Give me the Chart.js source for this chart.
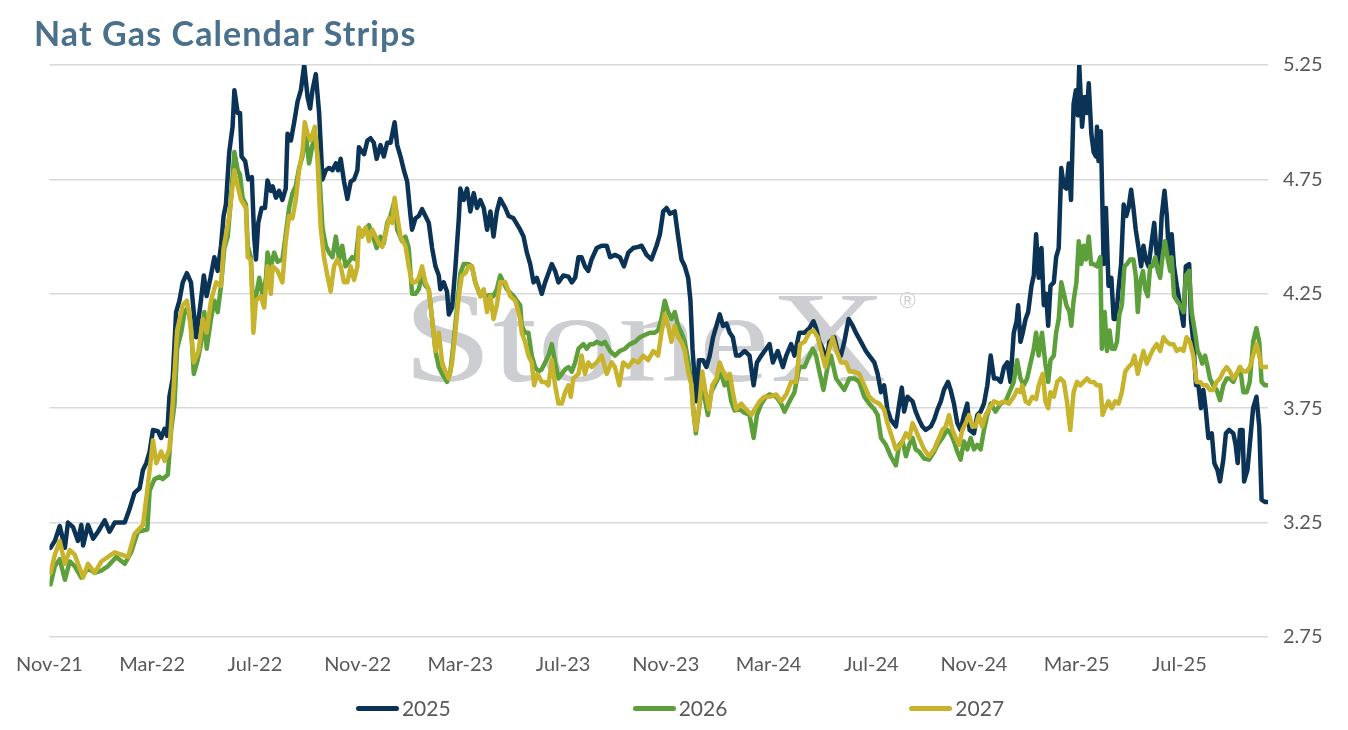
<!DOCTYPE html>
<html>
<head>
<meta charset="utf-8">
<title>Nat Gas Calendar Strips</title>
<script src="https://cdn.jsdelivr.net/npm/chart.js@4.4.1/dist/chart.umd.min.js"></script>
<style>
  html, body { margin: 0; padding: 0; background: #fff; }
  #wrap { position: relative; width: 1348px; height: 730px; overflow: hidden; }
  #title { position: absolute; left: 34px; top: 12px; font: 700 34px Lato, sans-serif; letter-spacing: 1.1px; color: #4a708c; white-space: nowrap; }
  #legend { position: absolute; left: 6px; top: 696px; width: 1348px; display: flex; justify-content: center; gap: 182px; font: 21px Lato, sans-serif; line-height: 24px; color: #595959; }
  #legend .item { display: flex; align-items: center; }
  #legend .swatch { width: 43px; height: 5px; border-radius: 3px; margin-right: 3px; }
</style>
</head>
<body>
<div id="wrap">
  <canvas id="chart" width="1348" height="730"></canvas>
  <div id="title">Nat Gas Calendar Strips</div>
  <div id="legend"></div>
</div>
<script>
// x = months after 1 Nov 2021, y = $/MMBtu
const xTickLabels = ['Nov-21', 'Mar-22', 'Jul-22', 'Nov-22', 'Mar-23', 'Jul-23',
    'Nov-23', 'Mar-24', 'Jul-24', 'Nov-24', 'Mar-25', 'Jul-25'];
const seriesNames = ['2025', '2026', '2027'];

const strip2025 = [
    [0.04,3.14],[0.21,3.17],[0.40,3.235],[0.60,3.14],[0.72,3.25],[0.92,3.23],[1.11,3.17],[1.24,3.24],[1.31,3.15],[1.50,3.24],
    [1.70,3.18],[1.89,3.21],[2.15,3.26],[2.34,3.21],[2.54,3.25],[2.93,3.25],[3.12,3.31],[3.31,3.38],[3.51,3.40],[3.64,3.48],
    [3.77,3.51],[3.90,3.56],[4.03,3.655],[4.22,3.65],[4.35,3.62],[4.48,3.66],[4.58,3.63],[4.67,3.80],[4.80,3.88],[4.93,4.17],
    [5.06,4.22],[5.19,4.30],[5.35,4.34],[5.51,4.30],[5.71,4.06],[5.88,4.205],[6.01,4.33],[6.12,4.24],[6.27,4.32],[6.42,4.41],
    [6.55,4.35],[6.68,4.46],[6.78,4.59],[6.87,4.64],[7.00,4.87],[7.13,4.98],[7.20,5.14],[7.33,5.04],[7.42,5.04],[7.48,4.85],
    [7.62,4.83],[7.74,4.75],[7.88,4.76],[7.97,4.50],[8.04,4.40],[8.13,4.56],[8.26,4.625],[8.39,4.625],[8.49,4.745],[8.62,4.70],
    [8.69,4.72],[8.82,4.67],[8.94,4.70],[9.07,4.66],[9.20,4.71],[9.27,4.95],[9.40,4.92],[9.53,5.00],[9.66,5.09],[9.79,5.14],
    [9.92,5.25],[10.05,5.11],[10.15,5.06],[10.24,5.14],[10.37,5.21],[10.50,5.04],[10.63,4.75],[10.76,4.79],[10.89,4.80],[11.02,4.79],
    [11.15,4.82],[11.24,4.79],[11.34,4.84],[11.47,4.74],[11.60,4.665],[11.73,4.74],[11.86,4.75],[11.99,4.79],[12.05,4.89],[12.25,4.86],
    [12.38,4.92],[12.50,4.93],[12.63,4.91],[12.74,4.84],[12.89,4.90],[13.02,4.85],[13.15,4.91],[13.28,4.91],[13.44,5.00],[13.54,4.90],
    [13.67,4.85],[13.80,4.79],[13.93,4.74],[14.06,4.59],[14.12,4.53],[14.25,4.58],[14.38,4.59],[14.51,4.62],[14.64,4.59],[14.77,4.56],
    [14.90,4.45],[15.03,4.37],[15.16,4.33],[15.22,4.27],[15.35,4.30],[15.48,4.26],[15.55,4.16],[15.68,4.19],[15.81,4.37],[15.94,4.58],
    [16.00,4.71],[16.13,4.66],[16.26,4.71],[16.39,4.61],[16.52,4.69],[16.65,4.625],[16.78,4.66],[16.91,4.625],[17.04,4.53],[17.17,4.61],
    [17.29,4.50],[17.42,4.61],[17.55,4.665],[17.75,4.625],[17.88,4.59],[18.07,4.58],[18.33,4.53],
    [18.46,4.50],[18.59,4.43],[18.72,4.38],[18.85,4.30],[18.98,4.32],[19.17,4.25],[19.30,4.30],[19.43,4.34],[19.56,4.38],[19.69,4.35],
    [19.82,4.30],[20.01,4.33],[20.21,4.325],[20.34,4.30],[20.47,4.32],[20.60,4.41],[20.72,4.41],[20.85,4.37],[20.98,4.35],[21.11,4.40],
    [21.31,4.45],[21.50,4.46],[21.70,4.46],[21.83,4.41],[22.02,4.42],[22.21,4.41],[22.37,4.37],[22.54,4.43],[22.73,4.45],[22.93,4.455],
    [23.06,4.46],[23.25,4.42],[23.44,4.40],[23.64,4.46],[23.77,4.51],[23.90,4.61],[24.03,4.625],[24.16,4.60],[24.35,4.61],[24.48,4.50],
    [24.61,4.40],[24.74,4.37],[24.87,4.32],[24.96,4.22],[25.04,4.01],[25.13,3.865],[25.19,3.78],[25.29,3.96],[25.45,3.96],[25.58,3.93],
    [25.71,3.98],[25.84,4.06],[25.97,4.11],[26.10,4.16],[26.23,4.11],[26.36,4.12],[26.49,4.08],[26.61,4.06],[26.74,3.98],[26.87,3.98],
    [27.07,4.00],[27.26,3.98],[27.42,3.85],[27.55,3.95],[27.72,3.98],[27.91,4.01],[28.04,4.03],
    [28.17,3.95],[28.36,4.00],[28.56,3.93],[28.69,3.98],[28.88,4.03],[29.01,3.98],[29.20,4.08],[29.40,4.08],[29.59,4.10],[29.75,4.13],
    [29.85,4.10],[29.98,4.04],[30.11,4.01],[30.24,3.95],[30.37,4.04],[30.56,4.06],[30.69,4.00],[30.82,3.98],[30.95,4.04],[31.12,4.14],
    [31.28,4.11],[31.40,4.08],[31.60,4.04],[31.79,4.00],[31.92,3.98],[32.12,3.95],[32.25,3.90],[32.38,3.82],[32.50,3.85],[32.63,3.745],
    [32.76,3.70],[32.96,3.67],[33.09,3.77],[33.19,3.84],[33.28,3.735],[33.41,3.80],[33.61,3.78],[33.73,3.735],[33.86,3.70],[33.99,3.67],
    [34.12,3.655],[34.32,3.67],[34.45,3.70],[34.58,3.745],[34.71,3.78],[34.83,3.83],[34.99,3.865],[35.09,3.83],[35.22,3.77],[35.35,3.685],
    [35.48,3.655],[35.61,3.72],[35.74,3.77],[35.83,3.655],[36.00,3.64],[36.13,3.72],[36.26,3.735],[36.39,3.77],[36.52,3.85],[36.65,3.98],
    [36.78,3.88],[36.91,3.88],[37.04,3.865],[37.17,3.93],[37.30,3.95],[37.42,3.865],[37.55,4.08],[37.66,4.13],[37.72,4.20],[37.81,4.04],
    [37.90,4.08],[38.01,4.14],[38.11,4.17],[38.24,4.285],[38.33,4.33],[38.42,4.51],[38.52,4.32],[38.63,4.45],[38.72,4.20],[38.81,4.25],
    [38.89,4.11],[38.98,4.285],[39.11,4.30],[39.20,4.41],[39.30,4.45],[39.40,4.80],[39.50,4.72],[39.60,4.71],[39.69,4.82],[39.78,4.66],
    [39.88,5.08],[39.97,5.14],[40.04,5.03],[40.10,5.25],[40.21,4.98],[40.31,5.11],[40.40,5.04],[40.47,5.17],[40.57,4.95],[40.66,4.87],
    [40.75,4.85],[40.79,4.98],[40.85,4.83],[40.94,4.96],[41.05,4.38],[41.14,4.625],[41.24,4.285],[41.35,4.32],[41.44,4.14],[41.53,4.14],
    [41.63,4.27],[41.73,4.38],[41.83,4.64],[41.93,4.59],[42.02,4.625],[42.12,4.705],[42.21,4.625],[42.30,4.53],[42.41,4.45],[42.51,4.37],
    [42.60,4.46],[42.69,4.40],[42.80,4.37],[42.90,4.46],[43.02,4.56],[43.11,4.43],[43.21,4.37],[43.31,4.59],[43.42,4.70],[43.51,4.59],
    [43.60,4.40],[43.70,4.51],[43.79,4.37],[43.90,4.285],[44.03,4.20],[44.16,4.11],[44.25,4.37],[44.38,4.38],[44.45,4.14],[44.54,4.04],
    [44.65,3.85],[44.74,3.85],[44.84,3.75],[44.93,3.83],[45.02,3.75],[45.13,3.62],[45.26,3.64],[45.36,3.51],[45.48,3.48],[45.58,3.43],
    [45.71,3.525],[45.81,3.64],[45.94,3.655],[46.10,3.64],[46.19,3.59],[46.27,3.51],[46.36,3.655],[46.46,3.655],[46.52,3.43],[46.65,3.48],
    [46.74,3.59],[46.87,3.75],[47.00,3.80],[47.11,3.67],[47.20,3.35],[47.33,3.34],[47.43,3.34]
];

const strip2026 = [
    [0.04,2.98],[0.21,3.06],[0.40,3.09],[0.60,3.00],[0.79,3.08],[0.98,3.06],[1.24,3.01],[1.50,3.05],[1.76,3.03],[2.02,3.04],
    [2.28,3.06],[2.60,3.10],[2.93,3.07],[3.18,3.12],[3.44,3.21],[3.81,3.22],[3.90,3.39],[4.09,3.44],[4.28,3.45],[4.41,3.44],
    [4.61,3.46],[4.74,3.655],[4.87,3.77],[4.97,4.01],[5.13,4.08],[5.26,4.17],[5.39,4.19],[5.51,4.11],[5.62,3.90],[5.77,3.96],
    [5.90,4.03],[6.03,4.17],[6.12,4.01],[6.29,4.14],[6.42,4.22],[6.55,4.17],[6.68,4.285],[6.81,4.45],[6.94,4.50],[7.07,4.67],
    [7.20,4.87],[7.33,4.79],[7.42,4.77],[7.52,4.67],[7.65,4.64],[7.72,4.46],[7.84,4.41],[7.94,4.16],[8.04,4.24],[8.17,4.32],
    [8.30,4.24],[8.43,4.32],[8.49,4.43],[8.62,4.37],
    [8.75,4.43],[8.88,4.39],[9.07,4.40],[9.20,4.51],[9.33,4.625],[9.46,4.69],[9.59,4.72],[9.72,4.80],[9.85,4.85],[9.98,4.95],
    [10.11,4.82],[10.24,4.90],[10.37,4.93],[10.50,4.79],[10.63,4.54],[10.76,4.46],[10.89,4.43],[11.02,4.41],[11.15,4.50],[11.28,4.40],
    [11.40,4.46],[11.53,4.37],[11.66,4.39],[11.79,4.41],[11.92,4.40],[12.05,4.53],[12.25,4.52],[12.44,4.55],[12.57,4.51],[12.74,4.45],
    [12.89,4.50],[13.02,4.47],[13.15,4.56],[13.28,4.59],[13.44,4.66],[13.54,4.53],[13.73,4.48],[13.86,4.50],[13.99,4.45],[14.12,4.25],
    [14.25,4.25],[14.38,4.27],[14.51,4.33],[14.64,4.285],[14.77,4.27],[14.90,4.14],[15.03,4.00],[15.16,3.93],[15.29,3.90],[15.48,3.865],
    [15.61,3.91],[15.74,4.04],[15.87,4.19],[16.00,4.34],[16.13,4.38],[16.32,4.38],[16.45,4.37],[16.58,4.30],[16.78,4.24],[16.91,4.25],
    [17.04,4.24],[17.17,4.245],[17.29,4.24],[17.42,4.27],[17.55,4.33],[17.68,4.30],[17.81,4.27],[18.07,4.24],[18.33,4.20],
    [18.39,4.11],[18.52,4.08],[18.65,4.08],[18.78,3.98],[18.91,3.93],[19.04,3.91],[19.17,3.92],[19.30,3.95],[19.43,3.98],[19.56,4.03],
    [19.69,3.95],[19.82,3.88],[19.95,3.90],[20.08,3.92],[20.21,3.93],[20.34,3.91],[20.47,3.95],[20.60,4.01],[20.79,4.03],[20.92,4.01],
    [21.05,4.03],[21.18,4.03],[21.31,4.04],[21.50,4.03],[21.63,4.04],[21.83,4.00],[22.02,3.98],[22.21,4.00],[22.41,4.01],[22.60,4.03],
    [22.80,4.04],[22.99,4.06],[23.18,4.07],[23.38,4.08],[23.57,4.08],[23.70,4.09],[23.83,4.14],[23.96,4.22],[24.09,4.17],[24.22,4.14],
    [24.35,4.17],[24.48,4.11],[24.61,4.08],[24.74,4.04],[24.87,3.96],[25.00,3.85],[25.09,3.72],[25.17,3.64],[25.29,3.74],[25.42,3.865],
    [25.55,3.77],[25.64,3.72],[25.77,3.82],[25.90,3.85],[26.03,3.88],[26.16,3.90],[26.29,3.85],[26.42,3.865],[26.55,3.78],[26.68,3.74],
    [26.87,3.745],[27.07,3.73],[27.26,3.72],[27.42,3.62],[27.55,3.72],[27.72,3.77],[27.91,3.80],[28.04,3.81],
    [28.30,3.80],[28.49,3.77],[28.62,3.735],[28.82,3.78],[29.01,3.82],[29.20,3.93],[29.40,3.93],[29.59,3.98],[29.72,4.01],[29.85,3.98],
    [29.98,3.91],[30.14,3.83],[30.30,3.93],[30.43,3.98],[30.63,3.88],[30.82,3.85],[30.95,3.83],[31.15,3.88],[31.34,3.88],[31.53,3.865],
    [31.73,3.80],[31.92,3.77],[32.12,3.745],[32.25,3.72],[32.38,3.62],[32.57,3.59],[32.76,3.54],[32.96,3.50],[33.09,3.59],[33.22,3.605],
    [33.35,3.54],[33.48,3.59],[33.61,3.62],[33.73,3.57],[33.86,3.56],[34.06,3.53],[34.25,3.525],[34.45,3.56],[34.58,3.59],[34.77,3.62],
    [34.96,3.655],[35.09,3.64],[35.22,3.605],[35.35,3.56],[35.48,3.525],[35.61,3.605],[35.74,3.57],[35.87,3.62],[36.00,3.57],[36.13,3.59],
    [36.26,3.57],[36.39,3.655],[36.52,3.72],[36.65,3.77],[36.84,3.735],[37.04,3.77],[37.23,3.78],[37.42,3.83],[37.55,3.865],[37.68,3.96],
    [37.81,3.88],
    [37.94,3.85],[38.07,3.88],[38.20,3.945],[38.33,4.01],[38.42,4.08],[38.52,3.98],[38.65,4.08],[38.78,3.945],[38.89,3.865],[38.98,3.96],
    [39.11,3.98],[39.20,4.08],[39.30,4.14],[39.40,4.30],[39.50,4.25],[39.60,4.20],[39.72,4.17],[39.79,4.11],[39.88,4.22],[39.99,4.30],
    [40.08,4.48],[40.18,4.38],[40.27,4.46],[40.36,4.40],[40.47,4.50],[40.56,4.38],[40.66,4.38],[40.79,4.37],[40.92,4.41],[40.98,4.01],
    [41.09,4.17],[41.18,4.00],[41.28,4.09],[41.37,4.01],[41.48,4.01],[41.57,4.04],[41.66,4.16],[41.76,4.20],[41.86,4.37],[41.96,4.38],
    [42.08,4.40],[42.21,4.40],[42.30,4.33],[42.38,4.17],[42.47,4.30],[42.58,4.35],[42.67,4.27],[42.77,4.24],[42.86,4.37],[42.95,4.37],
    [43.06,4.41],[43.16,4.35],[43.25,4.32],[43.34,4.41],[43.44,4.48],[43.55,4.40],[43.64,4.35],[43.70,4.41],[43.79,4.24],[43.90,4.22],
    [44.03,4.20],[44.16,4.17],[44.25,4.33],[44.38,4.35],[44.48,4.17],[44.61,4.08],[44.71,4.00],[44.80,3.98],[44.89,3.945],[45.00,3.98],
    [45.10,3.93],[45.19,3.88],[45.32,3.85],[45.45,3.83],[45.58,3.785],[45.71,3.85],[45.84,3.88],[45.97,3.88],[46.10,3.865],[46.23,3.90],
    [46.36,3.93],[46.49,3.82],[46.62,3.82],[46.74,3.865],[46.87,4.04],[47.00,4.10],[47.11,4.04],[47.20,3.865],[47.33,3.85],[47.43,3.85]
];

const strip2027 = [
    [0.04,3.03],[0.21,3.11],[0.40,3.17],[0.60,3.07],[0.79,3.13],[0.98,3.11],[1.31,3.01],[1.50,3.07],[1.76,3.03],[2.02,3.08],
    [2.28,3.10],[2.54,3.12],[2.80,3.11],[3.06,3.10],[3.31,3.20],[3.64,3.24],[3.83,3.41],[4.03,3.61],[4.16,3.51],[4.35,3.56],
    [4.48,3.52],[4.67,3.57],[4.80,3.78],[4.97,4.09],[5.19,4.20],[5.35,4.22],[5.45,4.16],[5.62,3.95],[5.80,4.00],[5.97,4.14],
    [6.12,4.08],[6.29,4.22],[6.49,4.30],[6.68,4.285],[6.78,4.45],[7.00,4.59],[7.20,4.79],[7.33,4.72],[7.46,4.66],[7.65,4.625],
    [7.72,4.41],[7.84,4.40],[7.94,4.08],[8.04,4.22],[8.23,4.24],[8.36,4.19],[8.49,4.37],[8.62,4.25],
    [8.69,4.37],[8.88,4.35],[9.07,4.30],[9.20,4.48],[9.33,4.59],[9.46,4.58],[9.59,4.66],[9.72,4.79],[9.85,4.87],[9.94,5.00],
    [10.05,4.95],[10.17,4.92],[10.33,4.98],[10.43,4.85],[10.56,4.54],[10.69,4.41],[10.82,4.33],[10.95,4.26],[11.08,4.37],[11.21,4.40],
    [11.34,4.37],[11.47,4.30],[11.60,4.30],[11.73,4.37],[11.86,4.31],[11.99,4.37],[12.05,4.54],[12.18,4.50],[12.31,4.54],[12.44,4.48],
    [12.57,4.53],[12.70,4.50],[12.83,4.47],[12.96,4.455],[13.09,4.51],[13.22,4.58],[13.35,4.56],[13.44,4.67],[13.54,4.59],[13.67,4.50],
    [13.86,4.46],[13.99,4.37],[14.12,4.30],[14.25,4.30],[14.38,4.32],[14.51,4.37],[14.64,4.30],[14.77,4.27],[14.90,4.14],[15.03,4.00],
    [15.16,4.08],[15.29,3.95],[15.42,3.91],[15.55,3.88],[15.68,3.95],[15.81,4.09],[15.94,4.24],[16.06,4.33],[16.19,4.34],[16.32,4.37],
    [16.45,4.37],[16.58,4.30],[16.78,4.24],[16.91,4.27],[17.04,4.17],[17.17,4.24],[17.29,4.14],[17.42,4.20],[17.55,4.30],[17.75,4.30],
    [17.94,4.24],[18.14,4.22],[18.33,4.14],
    [18.39,4.08],[18.52,4.04],[18.65,3.98],[18.78,3.95],[18.87,3.85],[19.00,3.90],[19.17,3.865],[19.30,3.865],[19.43,3.85],[19.56,3.96],
    [19.69,3.85],[19.82,3.77],[19.95,3.77],[20.08,3.82],[20.21,3.85],[20.30,3.80],[20.40,3.88],[20.60,3.90],[20.72,3.98],[20.85,3.90],
    [20.98,3.95],[21.11,3.93],[21.31,3.95],[21.50,3.98],[21.70,3.90],[21.89,3.95],[22.02,3.93],[22.19,3.85],[22.34,3.95],[22.54,3.93],
    [22.73,3.96],[22.93,3.95],[23.12,3.98],[23.31,3.96],[23.51,4.00],[23.70,3.98],[23.83,4.08],[23.96,4.16],[24.09,4.11],[24.22,4.04],
    [24.35,4.11],[24.48,4.06],[24.61,4.04],[24.74,4.00],[24.87,3.91],[25.00,3.85],[25.06,3.745],[25.17,3.655],[25.29,3.745],[25.42,3.91],
    [25.55,3.82],[25.68,3.745],[25.81,3.85],[25.97,3.88],[26.10,3.95],[26.23,3.91],[26.36,3.88],[26.49,3.90],[26.61,3.82],[26.74,3.745],
    [26.94,3.77],[27.13,3.745],[27.33,3.72],[27.46,3.745],[27.65,3.78],[27.84,3.80],[28.04,3.80],
    [28.30,3.81],[28.49,3.78],[28.69,3.81],[28.88,3.865],[29.07,3.865],[29.23,4.03],[29.40,4.04],[29.59,4.08],[29.75,4.09],[29.92,4.06],
    [30.05,4.00],[30.21,3.93],[30.37,4.01],[30.50,4.06],[30.65,4.00],[30.82,3.95],[31.02,3.95],[31.15,3.91],[31.34,3.91],[31.53,3.90],
    [31.73,3.85],[31.92,3.80],[32.12,3.78],[32.31,3.77],[32.50,3.745],[32.63,3.685],[32.76,3.64],[32.96,3.57],[33.15,3.59],[33.35,3.64],
    [33.48,3.62],[33.61,3.685],[33.73,3.655],[33.86,3.62],[34.06,3.57],[34.25,3.54],[34.45,3.57],[34.58,3.605],[34.77,3.655],[34.90,3.67],
    [35.03,3.72],[35.16,3.655],[35.29,3.62],[35.42,3.59],[35.55,3.655],[35.68,3.685],[35.81,3.72],[35.94,3.67],[36.06,3.67],[36.19,3.72],
    [36.32,3.67],[36.45,3.72],[36.58,3.745],[36.78,3.78],[36.97,3.77],[37.17,3.78],[37.36,3.77],[37.55,3.80],[37.68,3.83],[37.81,3.82],
    [37.88,3.85],[38.01,3.78],[38.14,3.77],[38.27,3.80],[38.42,3.79],[38.52,3.85],[38.68,3.90],[38.78,3.78],[38.89,3.75],[38.98,3.82],
    [39.11,3.80],[39.24,3.865],[39.37,3.88],[39.50,3.865],[39.62,3.78],[39.75,3.655],[39.88,3.82],[40.01,3.865],[40.14,3.85],[40.27,3.865],
    [40.40,3.88],[40.53,3.865],[40.66,3.865],[40.79,3.85],[40.92,3.85],[41.01,3.72],[41.11,3.75],[41.24,3.78],[41.37,3.75],[41.50,3.78],
    [41.63,3.77],[41.76,3.82],[41.89,3.91],[42.02,3.93],[42.15,3.945],[42.25,3.98],[42.38,3.90],[42.47,3.945],[42.60,4.00],[42.73,3.945],
    [42.86,3.98],[42.99,4.01],[43.12,4.03],[43.25,4.00],[43.38,4.06],[43.51,4.04],[43.64,4.03],[43.77,4.03],[43.90,4.00],[44.03,4.01],
    [44.16,4.00],[44.28,4.06],[44.41,4.04],[44.54,3.98],[44.67,3.865],[44.80,3.865],[44.93,3.85],[45.06,3.85],[45.19,3.83],[45.32,3.83],
    [45.45,3.865],[45.58,3.88],[45.71,3.91],[45.84,3.93],[45.97,3.91],[46.10,3.88],[46.23,3.90],[46.36,3.93],[46.49,3.91],[46.62,3.91],
    [46.74,3.93],[46.87,3.98],[47.00,4.03],[47.11,3.98],[47.20,3.93],[47.33,3.93],[47.43,3.93]
];

const toPoints = rows => rows.map(r => ({ x: r[0], y: r[1] }));

// faint company mark behind the lines
const watermark = {
    id: 'watermark',
    beforeDraw(chart) {
        const { ctx, chartArea } = chart;
        const w = chartArea.right - chartArea.left;
        const h = chartArea.bottom - chartArea.top;
        const left = chartArea.left + w * 0.29;
        const base = chartArea.top + h * 0.553;
        ctx.save();
        ctx.fillStyle = '#cdced2';
        ctx.font = '130px "Liberation Serif", "DejaVu Serif", serif';
        const tw = ctx.measureText('StoneX').width;
        const target = w * 0.397;
        ctx.translate(left, base);
        ctx.scale(target / tw, 1);
        ctx.textBaseline = 'alphabetic';
        ctx.fillText('StoneX', 0, 0);
        ctx.restore();
        ctx.save();
        ctx.fillStyle = '#cdced2';
        ctx.font = '22px "Liberation Sans", sans-serif';
        ctx.fillText('\u00AE', left + target + 13, chartArea.top + h * 0.425);
        ctx.restore();
    }
};

const ctx = document.getElementById('chart').getContext('2d');
const chart = new Chart(ctx, {
    type: 'line',
    data: {
        datasets: [{
            label: seriesNames[0],
            data: toPoints(strip2025),
            borderColor: '#0b3356',
            backgroundColor: '#0b3356',
            order: 3
        }, {
            label: seriesNames[1],
            data: toPoints(strip2026),
            borderColor: '#5c9f3b',
            backgroundColor: '#5c9f3b',
            order: 2
        }, {
            label: seriesNames[2],
            data: toPoints(strip2027),
            borderColor: '#c8b32c',
            backgroundColor: '#c8b32c',
            order: 1
        }]
    },
    options: {
        responsive: false,
        animation: false,
        layout: { padding: { left: 48, right: 0, top: 65, bottom: 43 } },
        elements: {
            line: { borderWidth: 4.5, tension: 0, borderCapStyle: 'round', borderJoinStyle: 'round' },
            point: { radius: 0, hoverRadius: 0 }
        },
        scales: {
            x: {
                type: 'linear',
                min: 0,
                max: 47.45,
                grid: { display: false, drawTicks: false },
                border: { display: false },
                ticks: {
                    stepSize: 4,
                    includeBounds: false,
                    autoSkip: false,
                    maxRotation: 0,
                    padding: 16,
                    color: '#595959',
                    font: { family: 'Lato', size: 20 },
                    callback: v => xTickLabels[Math.round(v / 4)]
                },
                afterFit: axis => { axis.height = 50; }
            },
            y: {
                position: 'right',
                min: 2.75,
                max: 5.25,
                grid: { color: '#d9d9d9', lineWidth: 1.5, drawTicks: false },
                border: { display: false },
                ticks: {
                    stepSize: 0.5,
                    padding: 15,
                    color: '#595959',
                    font: { family: 'Lato', size: 20 },
                    callback: v => v.toFixed(2)
                },
                afterFit: axis => { axis.width = 80; }
            }
        },
        plugins: {
            legend: { display: false },
            tooltip: { enabled: false }
        }
    },
    plugins: [watermark]
});

// legend below the chart, built from the chart's own legend items
const legendBox = document.getElementById('legend');
const items = Chart.defaults.plugins.legend.labels.generateLabels(chart)
    .sort((a, b) => a.datasetIndex - b.datasetIndex);
items.forEach(function (item) {
    const el = document.createElement('div');
    el.className = 'item';
    const sw = document.createElement('span');
    sw.className = 'swatch';
    sw.style.background = item.strokeStyle;
    const txt = document.createElement('span');
    txt.textContent = item.text;
    el.appendChild(sw);
    el.appendChild(txt);
    legendBox.appendChild(el);
});
</script>
</body>
</html>
